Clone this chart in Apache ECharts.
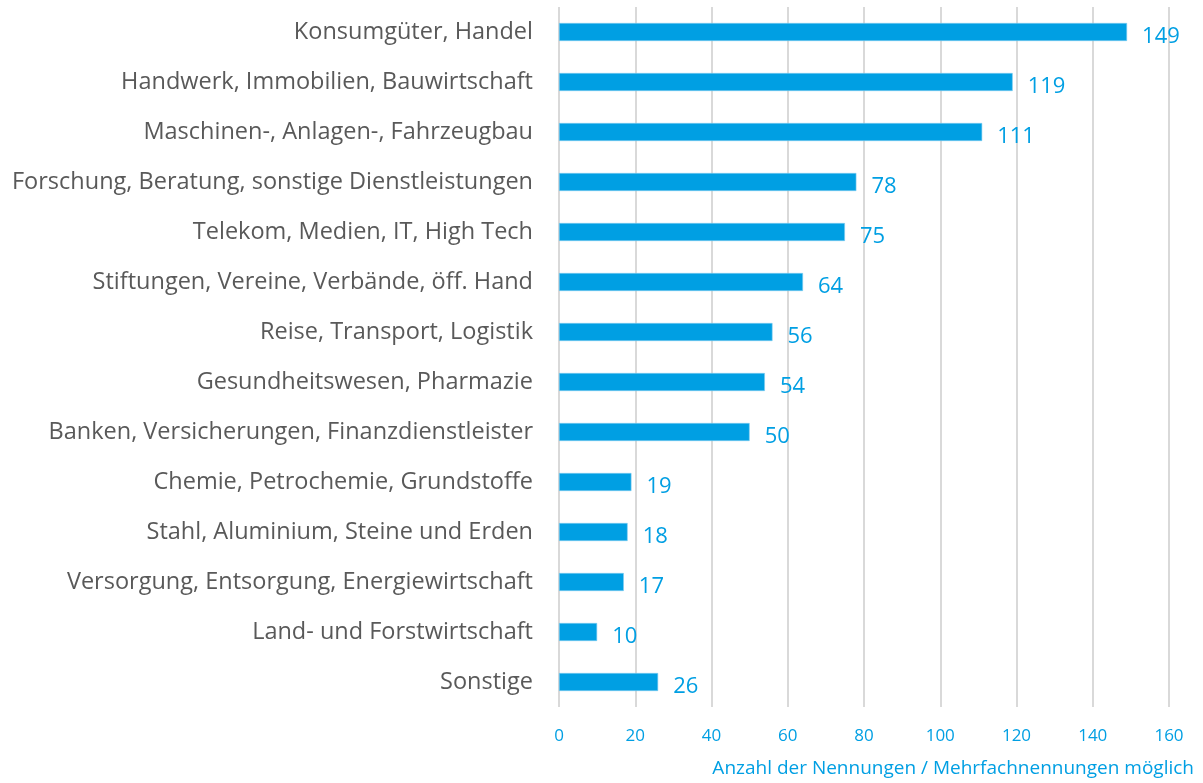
<!DOCTYPE html>
<html>
<head>
<meta charset="utf-8">
<script src="https://cdn.jsdelivr.net/npm/echarts@6/dist/echarts.min.js"></script>
<style>
  html, body { margin: 0; padding: 0; background: #fff; }
  #chart { width: 1203px; height: 783px; }
</style>
</head>
<body>
<div id="chart"></div>
<script>
// Branchen, von oben nach unten
var categories = [
  "Konsumgüter, Handel",
  "Handwerk, Immobilien, Bauwirtschaft",
  "Maschinen-, Anlagen-, Fahrzeugbau",
  "Forschung, Beratung, sonstige Dienstleistungen",
  "Telekom, Medien, IT, High Tech",
  "Stiftungen, Vereine, Verbände, öff. Hand",
  "Reise, Transport, Logistik",
  "Gesundheitswesen, Pharmazie",
  "Banken, Versicherungen, Finanzdienstleister",
  "Chemie, Petrochemie, Grundstoffe",
  "Stahl, Aluminium, Steine und Erden",
  "Versorgung, Entsorgung, Energiewirtschaft",
  "Land- und Forstwirtschaft",
  "Sonstige"
];
var nennungen = [149, 119, 111, 78, 75, 64, 56, 54, 50, 19, 18, 17, 10, 26];
var axisMax = 160;
var axisStep = 20;
var axisTitle = "Anzahl der Nennungen / Mehrfachnennungen möglich";

var blue = "#009fe3";
var font = "'Open Sans', 'Noto Sans', sans-serif";

var chart = echarts.init(document.getElementById("chart"));
chart.setOption({
  animation: false,
  textStyle: { fontFamily: font },
  title: {
    text: axisTitle,
    right: 4,
    bottom: 0,
    textStyle: { color: blue, fontSize: 19, fontWeight: "normal", fontFamily: font }
  },
  grid: { left: 559, right: 34, top: 7, bottom: 76, containLabel: false },
  xAxis: {
    type: "value",
    min: 0,
    max: axisMax,
    interval: axisStep,
    axisLine: { show: false },
    axisTick: { show: false },
    splitLine: { lineStyle: { color: "#d9d9d9", width: 2 } },
    axisLabel: { color: blue, fontSize: 17, margin: 21, fontFamily: font }
  },
  yAxis: {
    type: "category",
    inverse: true,
    data: categories,
    axisLine: { show: false },
    axisTick: { show: false },
    axisLabel: { color: "#595959", fontSize: 23.5, margin: 26, fontFamily: font }
  },
  series: [
    {
      type: "bar",
      data: nennungen,
      barWidth: 18,
      itemStyle: { color: blue, borderColor: "#7fcdf0", borderWidth: 0.6 },
      label: {
        show: true,
        position: "right",
        distance: 15,
        offset: [0, 5],
        color: blue,
        fontSize: 22,
        fontFamily: font
      }
    }
  ]
});
</script>
</body>
</html>
